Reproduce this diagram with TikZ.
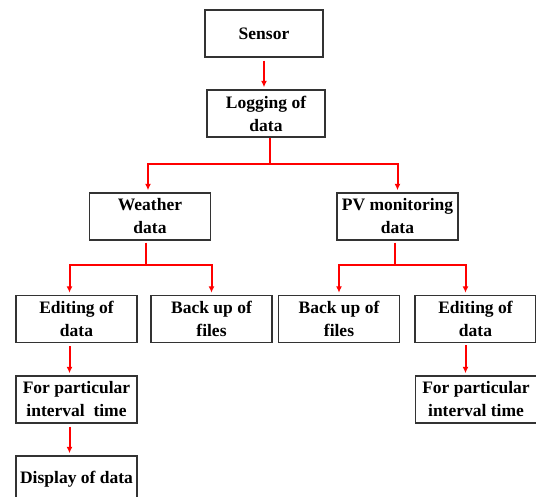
\documentclass[tikz,border=0pt]{standalone}
\usepackage{fontspec}
\setmainfont{Liberation Serif}
\usetikzlibrary{arrows.meta}
\begin{document}
\begin{tikzpicture}[x=1pt,y=-1pt,>={Latex[length=6.5pt,width=6pt]}]
        \tikzset{
          box/.style={draw=black!80, line width=1.4pt, minimum width=121pt,
            minimum height=47pt, inner sep=1pt, align=center,
            font=\fontsize{17.5}{23}\selectfont\bfseries},
          link/.style={->, red, line width=2pt, shorten >=2pt}
        }
        % the page, cut at the bottom and right edge as in the scan
        \clip (0,0) rectangle (536,496);

        % top of the chart
        \node[box, minimum width=118pt] (sensor)  at (264,33.5)  {Sensor};
        \node[box, minimum width=118pt] (logging) at (266,113.5) {Logging of\\data};

        % the two kinds of data
        \node[box] (weather) at (150,216.5) {Weather\\data};
        \node[box] (pvdata)  at (397.5,216.5) {PV monitoring\\data};

        % what happens to the weather data
        \node[box] (editw)   at (76.5,319)  {Editing of\\data};
        \node[box] (backw)   at (211.5,319) {Back up of\\files};
        \node[box] (intw)    at (76.5,399.5) {For particular\\interval\ \ time};
        \node[box] (display) at (76.5,479.5) {Display of data};

        % what happens to the PV data
        \node[box] (backpv)  at (339,319)   {Back up of\\files};
        \node[box] (editpv)  at (475.5,319) {Editing of\\data};
        \node[box] (intpv)   at (476,399.5) {For particular\\interval time};

        % connectors
        \draw[link, shorten <=3pt] (sensor.south) -- (sensor.south |- logging.north);

        \draw[red, line width=2pt] (logging.south) ++(4,0) -- ++(0,26) coordinate (split1);
        \draw[link] (split1) -| ([xshift=-2pt]weather.north);
        \draw[link] (split1) -| (pvdata.north);

        \draw[red, line width=2pt] (weather.south) ++(-4,2) -- ++(0,22) coordinate (split2);
        \draw[link] (split2) -| ([xshift=-7pt]editw.north);
        \draw[link] (split2) -| (backw.north);

        \draw[red, line width=2pt] (pvdata.south) ++(-3,2) -- ++(0,22) coordinate (split3);
        \draw[link] (split3) -| (backpv.north);
        \draw[link] (split3) -| ([xshift=-10pt]editpv.north);

        \draw[link, shorten <=3pt] ([xshift=-7pt]editw.south) -- ([xshift=-7pt]intw.north);
        \draw[link, shorten <=3pt] ([xshift=-7pt]intw.south) -- ([xshift=-7pt]display.north);
        \draw[link, shorten <=2pt] ([xshift=-10pt]editpv.south) -- ([xshift=-10pt]editpv.south |- intpv.north);
\end{tikzpicture}
\end{document}
